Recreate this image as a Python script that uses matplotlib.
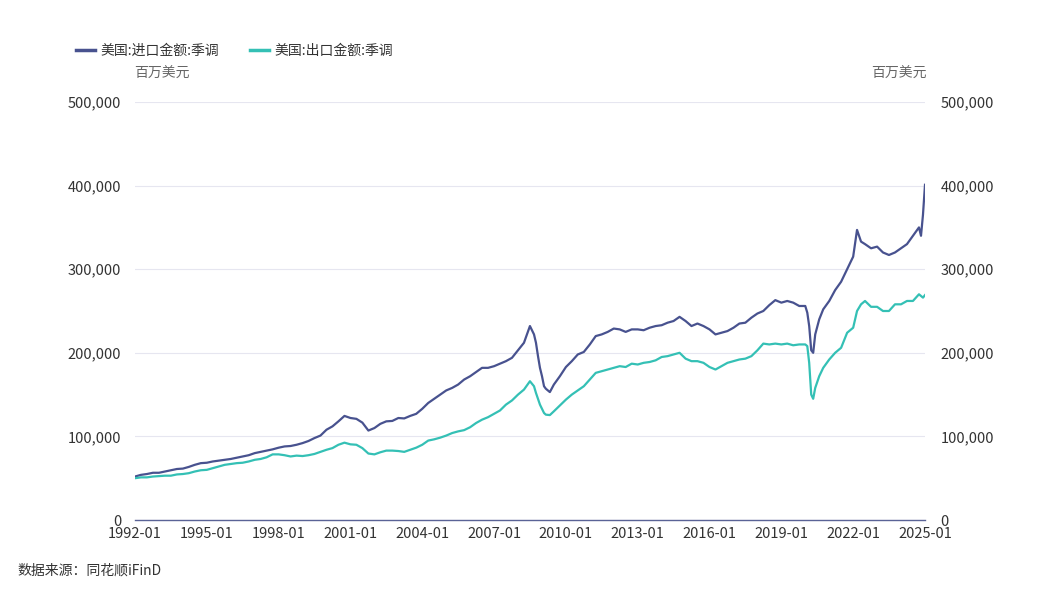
import matplotlib
matplotlib.use("Agg")
import matplotlib.pyplot as plt
import matplotlib.ticker as mticker
import numpy as np
from matplotlib.lines import Line2D

plt.rcParams['font.family'] = ['Noto Sans CJK SC', 'DejaVu Sans']

# Dates (monthly positions)
dates = [
    "1992-01", "1992-04", "1992-07", "1992-10",
    "1993-01", "1993-04", "1993-07", "1993-10",
    "1994-01", "1994-04", "1994-07", "1994-10",
    "1995-01", "1995-04", "1995-07", "1995-10",
    "1996-01", "1996-04", "1996-07", "1996-10",
    "1997-01", "1997-04", "1997-07", "1997-10",
    "1998-01", "1998-04", "1998-07", "1998-10",
    "1999-01", "1999-04", "1999-07", "1999-10",
    "2000-01", "2000-04", "2000-07", "2000-10",
    "2001-01", "2001-04", "2001-07", "2001-10",
    "2002-01", "2002-04", "2002-07", "2002-10",
    "2003-01", "2003-04", "2003-07", "2003-10",
    "2004-01", "2004-04", "2004-07", "2004-10",
    "2005-01", "2005-04", "2005-07", "2005-10",
    "2006-01", "2006-04", "2006-07", "2006-10",
    "2007-01", "2007-04", "2007-07", "2007-10",
    "2008-01", "2008-04", "2008-07", "2008-09", "2008-10", "2008-11", "2008-12",
    "2009-01", "2009-02", "2009-03", "2009-05", "2009-07", "2009-10",
    "2010-01", "2010-04", "2010-07", "2010-10",
    "2011-01", "2011-04", "2011-07", "2011-10",
    "2012-01", "2012-04", "2012-07", "2012-10",
    "2013-01", "2013-04", "2013-07", "2013-10",
    "2014-01", "2014-04", "2014-07", "2014-10",
    "2015-01", "2015-04", "2015-07", "2015-10",
    "2016-01", "2016-04", "2016-07", "2016-10",
    "2017-01", "2017-04", "2017-07", "2017-10",
    "2018-01", "2018-04", "2018-07", "2018-10",
    "2019-01", "2019-04", "2019-07", "2019-10",
    "2020-01", "2020-02", "2020-03", "2020-04", "2020-05", "2020-06", "2020-08", "2020-10",
    "2021-01", "2021-04", "2021-07", "2021-10",
    "2022-01", "2022-03", "2022-05", "2022-07", "2022-10",
    "2023-01", "2023-04", "2023-07", "2023-10",
    "2024-01", "2024-04", "2024-07", "2024-10", "2024-11", "2024-12",
    "2025-01",
]

# 美国:进口金额:季调 (million USD)
imports = [
    52000, 54000, 55000, 56500,
    56500, 58000, 59500, 61000,
    61500, 63500, 66000, 68000,
    68500, 70000, 71000, 72000,
    73000, 74500, 76000, 77500,
    80000, 81500, 83000, 84500,
    86500, 88000, 88500, 90000,
    92000, 94500, 98000, 101000,
    108000, 112000, 118000, 124500,
    122000, 121000, 116500, 107000,
    110000, 115000, 118000, 118500,
    122000, 121500, 124500, 127000,
    133000, 140000, 145000, 150000,
    155000, 158000, 162000, 168000,
    172000, 177000, 182000, 182000,
    184000, 187000, 190000, 194000,
    203000, 212000, 232000, 222000, 212000, 196000, 182000,
    172000, 160000, 157000, 153000, 162000, 172000,
    183000, 190000, 198000, 201000,
    210000, 220000, 222000, 225000,
    229000, 228000, 225000, 228000,
    228000, 227000, 230000, 232000,
    233000, 236000, 238000, 243000,
    238000, 232000, 235000, 232000,
    228000, 222000, 224000, 226000,
    230000, 235000, 236000, 242000,
    247000, 250000, 257000, 263000,
    260000, 262000, 260000, 256000,
    256000, 248000, 232000, 203000, 200000, 222000, 240000, 252000,
    262000, 275000, 285000, 300000,
    315000, 347000, 333000, 330000, 325000,
    327000, 320000, 317000, 320000,
    325000, 330000, 340000, 350000, 340000, 365000,
    401000,
]

# 美国:出口金额:季调 (million USD)
exports = [
    50000, 51000, 51000, 52000,
    52500, 53000, 53000, 54500,
    55000, 56000, 58000, 59500,
    60000, 62000, 64000, 66000,
    67000, 68000, 68500, 70000,
    72000, 73000, 75000, 78500,
    78500, 77500, 76000, 77000,
    76500, 77500, 79000, 81500,
    84000, 86000, 90000, 92500,
    90500, 90000, 86000, 79500,
    78500, 81000, 83000, 83000,
    82500, 81500, 84000, 86500,
    90000, 95000, 96500, 98500,
    101000, 104000, 106000, 107500,
    111000, 116000, 120000, 123000,
    127000, 131000, 138000, 143000,
    150000, 156000, 166000, 160000, 152000, 145000, 138000,
    133000, 128000, 126000, 125500, 130000, 137000,
    144000, 150000, 155000, 160000,
    168000, 176000, 178000, 180000,
    182000, 184000, 183000, 187000,
    186000, 188000, 189000, 191000,
    195000, 196000, 198000, 200000,
    193000, 190000, 190000, 188000,
    183000, 180000, 184000, 188000,
    190000, 192000, 193000, 196000,
    203000, 211000, 210000, 211000,
    210000, 211000, 209000, 210000,
    210000, 208000, 188000, 150000, 145000, 158000, 172000, 182000,
    192000, 200000, 206000, 224000,
    230000, 250000, 258000, 262000, 255000,
    255000, 250000, 250000, 258000,
    258000, 262000, 262000, 270000, 268000, 266000,
    269000,
]

x = np.array(dates, dtype='datetime64[M]').astype('datetime64[D]')

imp_color = '#48528f'
exp_color = '#34c0b5'

fig = plt.figure(figsize=(10.6, 5.98), dpi=100)
ax = fig.add_axes([135 / 1060, 1 - 520 / 598, 790 / 1060, 418 / 598])

ax.plot(x, imports, color=imp_color, lw=1.6, solid_joinstyle='round', zorder=3)
ax.plot(x, exports, color=exp_color, lw=1.6, solid_joinstyle='round', zorder=3)

ax.set_xlim(np.datetime64('1992-01-01'), np.datetime64('2025-01-01'))
ax.set_ylim(0, 500000)

yticks = [0, 100000, 200000, 300000, 400000, 500000]
ax.set_yticks(yticks)
ax.yaxis.set_major_formatter(mticker.FuncFormatter(lambda v, p: f'{int(v):,}'))
xtick_labels = ['1992-01', '1995-01', '1998-01', '2001-01', '2004-01', '2007-01',
                '2010-01', '2013-01', '2016-01', '2019-01', '2022-01', '2025-01']
ax.set_xticks(np.array(xtick_labels, dtype='datetime64[M]').astype('datetime64[D]'))
ax.set_xticklabels(xtick_labels)

ax.grid(axis='y', color='#e6e6f0', lw=0.8)
ax.set_axisbelow(True)
for s in ['top', 'right', 'left']:
    ax.spines[s].set_visible(False)
ax.spines['bottom'].set_color('#5a6396')
ax.spines['bottom'].set_linewidth(1.0)
ax.tick_params(axis='both', length=0, labelsize=10.5, colors='#333333')
ax.tick_params(axis='y', pad=10)
ax.tick_params(axis='x', pad=5)

ax2 = ax.twinx()
ax2.set_ylim(0, 500000)
ax2.set_yticks(yticks)
ax2.yaxis.set_major_formatter(mticker.FuncFormatter(lambda v, p: f'{int(v):,}'))
for s in ax2.spines.values():
    s.set_visible(False)
ax2.tick_params(axis='y', length=0, labelsize=10.5, colors='#333333', pad=11)

fig.text(134 / 1060, 1 - 74 / 598, '百万美元', fontsize=10, color='#666666',
         ha='left', va='center')
fig.text(927 / 1060, 1 - 74 / 598, '百万美元', fontsize=10, color='#666666',
         ha='right', va='center')

handles = [Line2D([], [], color=imp_color, lw=2.5),
           Line2D([], [], color=exp_color, lw=2.5)]
fig.legend(handles, ['美国:进口金额:季调', '美国:出口金额:季调'],
           loc='center left', bbox_to_anchor=(63 / 1060, 1 - 51 / 598),
           ncol=2, frameon=False, fontsize=10, handlelength=1.4,
           handletextpad=0.4, columnspacing=2.2, labelcolor='#333333')

fig.text(17 / 1060, 1 - 571 / 598, '数据来源：同花顺iFinD', fontsize=10,
         color='#333333', ha='left', va='center')

fig.savefig('out.png', dpi=100)
